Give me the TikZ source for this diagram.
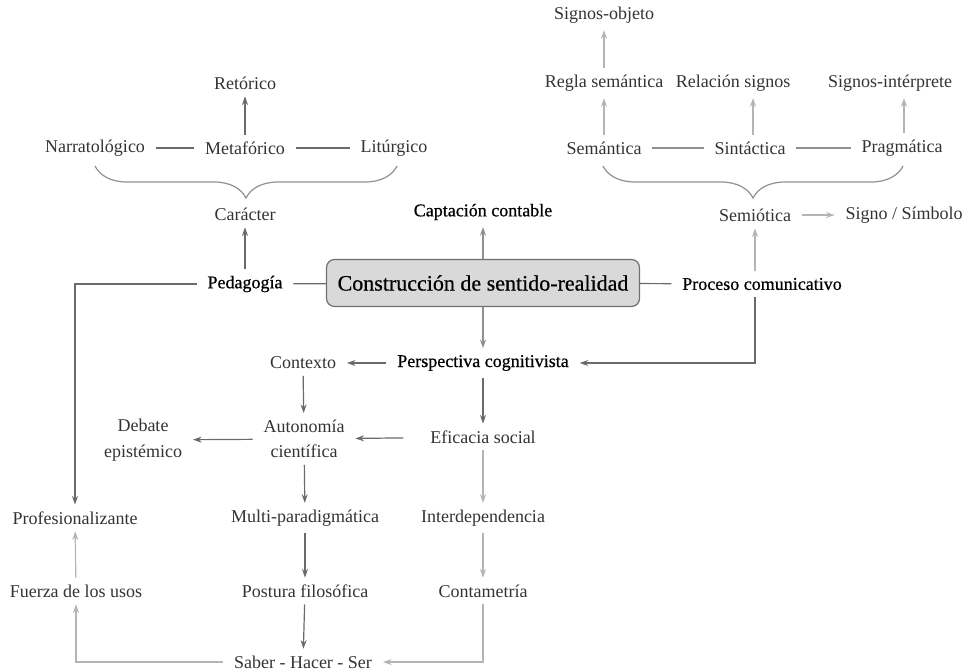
\documentclass[tikz,border=0pt]{standalone}
\usepackage{fontspec}
\setmainfont{Liberation Serif}
\newfontfamily\keyfont[FakeBold=0.6]{Liberation Serif}
\usetikzlibrary{arrows.meta,decorations.pathreplacing,calc}
\definecolor{txt}{HTML}{333333}
\definecolor{adark}{HTML}{6A6A6A}
\definecolor{alight}{HTML}{B4B4B4}
\definecolor{amid}{HTML}{909090}
\definecolor{boxfill}{HTML}{D9D9D9}
\definecolor{boxline}{HTML}{707070}
\begin{document}
\begin{tikzpicture}[x=0.75pt,y=-0.75pt,
  lbl/.style={font=\fontsize{13.5}{16}\selectfont, text=txt, inner xsep=8pt, inner ysep=5pt, align=center},
  key/.style={lbl, text=black, font=\keyfont\fontsize{13.5}{16}\selectfont},
  darr/.style={draw=adark, line width=0.9pt, -{Stealth[length=6.5pt,width=4.5pt]}},
  marr/.style={draw=amid, line width=0.9pt, -{Stealth[length=6.5pt,width=4.5pt]}},
  larr/.style={draw=alight, line width=0.9pt, -{Stealth[length=6.5pt,width=4.5pt]}},
  dlink/.style={draw=adark, line width=0.9pt},
  mlink/.style={draw=amid, line width=0.8pt},
  bracestyle/.style={draw=amid, line width=0.9pt, decorate, decoration={brace, mirror, amplitude=24pt}}]
\useasboundingbox (0,0) rectangle (966,671);

% ---- top right cluster
\node[lbl] (signobj) at (604,15) {Signos-objeto};
\node[lbl] (regla) at (604,83) {Regla semántica};
\node[lbl] (relac) at (733,83) {Relación signos};
\node[lbl] (signint) at (890,83) {Signos-intérprete};
\node[lbl] (seman) at (604,148) {Semántica};
\node[lbl] (sint) at (750,148) {Sintáctica};
\node[lbl] (prag) at (902,148) {Pragmática};
\node[lbl] (semio) at (755,215) {Semiótica};
\node[lbl] (signo) at (904,215) {Signo / Símbolo};

% ---- top left cluster
\node[lbl] (retor) at (245,83) {Retórico};
\node[lbl] (narr) at (95,148) {Narratológico};
\node[lbl] (meta) at (245,148) {Metafórico};
\node[lbl] (litu) at (394,148) {Litúrgico};
\node[lbl] (carac) at (245,214) {Carácter};

% ---- centre
\node[key] (capt) at (483,212) {Captación contable};
\node[key] (peda) at (245,284) {Pedagogía};
\node[draw=boxline, fill=boxfill, line width=0.9pt, rounded corners=6pt,
      minimum width=234.75pt, minimum height=35.25pt, inner sep=0pt,
      font=\keyfont\fontsize{16.5}{19}\selectfont] (box) at (483,283) {Construcción de sentido-realidad};
\node[key] (proc) at (762,284) {Proceso comunicativo};
\node[key] (persp) at (483,363) {Perspectiva cognitivista};

% ---- lower part
\node[lbl] (ctx) at (303,363) {Contexto};
\node[lbl, font=\fontsize{13.5}{19}\selectfont] (auto) at (304,439) {Autonomía\\científica};
\node[lbl, font=\fontsize{13.5}{19}\selectfont] (debate) at (143,440) {Debate\\epistémico};
\node[lbl] (efic) at (483,437) {Eficacia social};
\node[lbl] (prof) at (75,518) {Profesionalizante};
\node[lbl] (multi) at (305,518) {Multi-paradigmática};
\node[lbl] (inter) at (483,518) {Interdependencia};
\node[lbl] (fuerza) at (76,591) {Fuerza de los usos};
\node[lbl] (postura) at (305,591) {Postura filosófica};
\node[lbl] (conta) at (483,591) {Contametría};
\node[lbl] (saber) at (303,662) {Saber - Hacer - Ser};

% ---- connectors, top right
\draw[larr] (regla) -- (signobj);
\draw[larr] (seman) -- (regla);
\draw[larr] (sint.north -| 753,0) -- (relac.south -| 753,0);
\draw[larr] (prag.north -| 904,0) -- (signint.south -| 904,0);
\draw[mlink] (seman) -- (sint);
\draw[mlink] (sint) -- (prag);
\draw[bracestyle] (603,166) -- (903,166);
\draw[larr] (semio) -- (signo);
\draw[larr] (proc.north -| semio) -- (semio);

% ---- connectors, top left
\draw[darr] (meta) -- (retor);
\draw[dlink] (narr) -- (meta);
\draw[dlink] (meta) -- (litu);
\draw[bracestyle] (95,166) -- (397,166);
\draw[darr] (peda) -- (carac);

% ---- centre connectors
\draw[dlink] (peda) -- (box);
\draw[dlink] (box) -- (proc);
\draw[marr] (box) -- (capt);
\draw[marr] (box) -- (persp);
\draw[darr] (proc.south -| semio) |- (persp);
\draw[darr] (peda.west) -| (prof.north);

% ---- lower connectors
\draw[darr] (persp) -- (ctx);
\draw[darr] (ctx) -- (auto);
\draw[darr, shorten <=12pt] (efic) -- (auto);
\draw[darr] (auto) -- (debate);
\draw[darr] (persp) -- (efic);
\draw[darr] (auto) -- (multi);
\draw[larr] (efic) -- (inter);
\draw[darr] (multi) -- (postura);
\draw[larr] (inter) -- (conta);
\draw[darr] (postura) -- (saber);
\draw[larr] (conta.south) |- (saber.east);
\draw[larr] (saber.west) -| (fuerza.south);
\draw[larr] (fuerza) -- (prof);
\end{tikzpicture}
\end{document}
